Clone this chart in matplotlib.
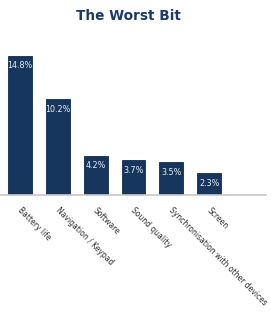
import matplotlib
matplotlib.use("Agg")
import matplotlib.pyplot as plt

categories = ["Battery life", "Navigation / Keypad", "Software", "Sound quality",
              "Synchronisation with other devices", "Screen"]
values = [14.8, 10.2, 4.2, 3.7, 3.5, 2.3]
value_labels = ["14.8%", "10.2%", "4.2%", "3.7%", "3.5%", "2.3%"]

W, H = 271, 320
fig = plt.figure(figsize=(W/100, H/100), dpi=100)
fig.patch.set_facecolor("white")

px_per_unit = 9.4
ax_bottom = 195
ax_top = 40
ax = fig.add_axes([1/W, 1 - ax_bottom/H, 265/W, (ax_bottom - ax_top)/H])
ymax = (ax_bottom - ax_top) / px_per_unit

x = list(range(len(categories)))
bars = ax.bar(x, values, width=0.63, color="#17365d", edgecolor="#0f2a4d", linewidth=0.6)
ax.set_xlim(-0.5, 6.5)
ax.set_ylim(0, ymax)

for xi, v, lab in zip(x, values, value_labels):
    ax.annotate(lab, (xi, v), xytext=(0, -10), textcoords="offset pixels",
                ha="center", va="center", color="#e8eef5", fontsize=5.8)

for s in ["top", "right", "left"]:
    ax.spines[s].set_visible(False)
ax.spines["bottom"].set_color("#c8c8c8")
ax.spines["bottom"].set_linewidth(1.2)
ax.set_yticks([])
ax.set_xticks(x)
ax.set_xticklabels([])
ax.tick_params(axis="x", length=0)

for xi, lab in zip(x, categories):
    ax.annotate(lab, (xi, 0), xytext=(-1, -14), textcoords="offset pixels",
                rotation=-45, rotation_mode="anchor", ha="left", va="center",
                fontsize=5.5, color="#303030", annotation_clip=False)

fig.text(128/W, 1 - 16/H, "The Worst Bit", ha="center", va="center",
         fontsize=9.8, fontweight="bold", color="#1a3a6a")

fig.savefig("out.png", dpi=100, facecolor="white")
